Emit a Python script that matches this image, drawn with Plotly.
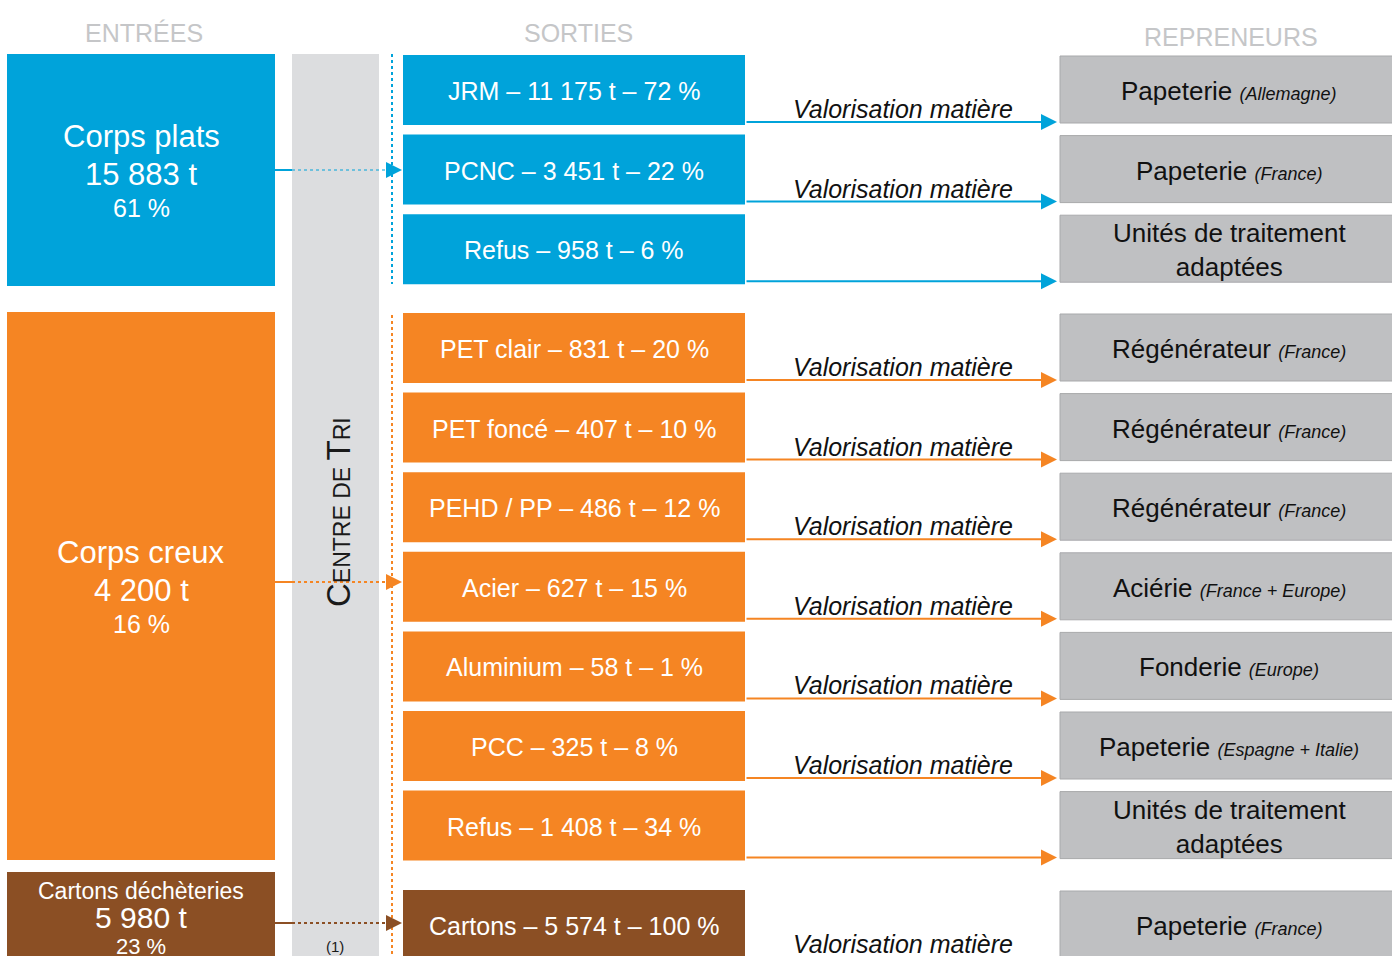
import plotly.graph_objects as go

# ---------------- DATA ----------------
header_labels = ["ENTRÉES", "SORTIES", "REPRENEURS"]

entree_names = ["Corps plats", "Corps creux", "Cartons déchèteries"]
entree_tonnes = ["15 883", "4 200", "5 980"]
entree_pct = [61, 16, 23]

sortie_names = ["JRM", "PCNC", "Refus", "PET clair", "PET foncé", "PEHD / PP",
                "Acier", "Aluminium", "PCC", "Refus", "Cartons"]
sortie_tonnes = ["11 175", "3 451", "958", "831", "407", "486",
                 "627", "58", "325", "1 408", "5 574"]
sortie_pct = [72, 22, 6, 20, 10, 12, 15, 1, 8, 34, 100]
sortie_flux = [0, 0, 0, 1, 1, 1, 1, 1, 1, 1, 2]
sortie_mode = ["Valorisation matière", "Valorisation matière", "",
               "Valorisation matière", "Valorisation matière", "Valorisation matière",
               "Valorisation matière", "Valorisation matière", "Valorisation matière",
               "", "Valorisation matière"]

repreneur_names = ["Papeterie", "Papeterie", "Unités de traitement<br>adaptées",
                   "Régénérateur", "Régénérateur", "Régénérateur", "Aciérie",
                   "Fonderie", "Papeterie", "Unités de traitement<br>adaptées",
                   "Papeterie"]
repreneur_pays = ["Allemagne", "France", "", "France", "France", "France",
                  "France + Europe", "Europe", "Espagne + Italie", "", "France"]

centre_label = ("C", "ENTRE DE ", "T", "RI")
note_label = "(1)"

# ---------------- STYLE / LAYOUT CONSTANTS ----------------
W, H = 1392, 956
FONT = "Liberation Sans, Arial, sans-serif"
FLUX_COLORS = ["#00A3DA", "#F58523", "#8B4F24"]
GRAY_COL = "#DCDDDF"
REP_FILL = "#BFC0C2"
REP_LINE = "#A8A9AB"
HEADER_COLOR = "#C5C6C8"

ENT_X0, ENT_X1 = 7, 275
ENT_TOP = [54, 312, 872]
ENT_BOT = [286, 860, 990]
COL_X0, COL_X1 = 292, 379
DOT_X = 392
SOR_X0, SOR_X1 = 403, 745
REP_X0, REP_X1 = 1060, 1400
ARROW_TIP = 1057
GROUP_START = [55, 313, 890]
PITCH = 79.6
BOX_H = 70
ARROW_IN_Y = [170, 582, 923]

shapes = []
annotations = []


def rect(x0, y0, x1, y1, fill, line=None, lw=0):
    shapes.append(dict(type="rect", xref="x", yref="y", x0=x0, y0=y0, x1=x1, y1=y1,
                       fillcolor=fill, line=dict(color=line or fill, width=lw),
                       layer="below"))


def text(x, y, s, size, color="white", xanchor="center", yanchor="middle",
         family=FONT, textangle=0):
    annotations.append(dict(x=x, y=y, xref="x", yref="y", text=s, showarrow=False,
                            xanchor=xanchor, yanchor=yanchor, textangle=textangle,
                            font=dict(family=family, size=size, color=color)))


def arrow(x_tail, y_tail, x_tip, y_tip, color, width=2, size=1.6):
    annotations.append(dict(x=x_tip, y=y_tip, ax=x_tail, ay=y_tail, xref="x", yref="y",
                            axref="x", ayref="y", text="", showarrow=True,
                            arrowhead=2, arrowsize=size, arrowwidth=width,
                            arrowcolor=color, standoff=0))


def line(x0, y0, x1, y1, color, width=2, dash="solid"):
    shapes.append(dict(type="line", xref="x", yref="y", x0=x0, y0=y0, x1=x1, y1=y1,
                       line=dict(color=color, width=width, dash=dash)))


# headers
header_x = [144, 578, 1231]
header_y = [33, 33, 37]
for hx, hy, lab in zip(header_x, header_y, header_labels):
    text(hx, hy, lab, 25, HEADER_COLOR)

# central sorting column
rect(COL_X0, ENT_TOP[0], COL_X1, 990, GRAY_COL)
c, e, t, r = centre_label
text(338, 512,
     f"<span style='font-size:33px'>{c}</span>{e}<span style='font-size:33px'>{t}</span>{r}",
     23, "#1A1A1A", textangle=-90)
text(335, 946, note_label, 15, "#1A1A1A")

# entries
for i, (name, tn, pc) in enumerate(zip(entree_names, entree_tonnes, entree_pct)):
    col = FLUX_COLORS[i]
    rect(ENT_X0, ENT_TOP[i], ENT_X1, ENT_BOT[i], col)
    if i < 2:
        cy = (ENT_TOP[i] + ENT_BOT[i]) / 2
        text(141, cy - 34, name, 31)
        text(141, cy + 4, f"{tn} t", 31)
        text(141, cy + 38, f"{pc} %", 25)
    else:
        text(141, ENT_TOP[i] + 19, name, 23)
        text(141, ENT_TOP[i] + 45, f"{tn} t", 30)
        text(141, ENT_TOP[i] + 74, f"{pc} %", 22)
    ay = ARROW_IN_Y[i]
    line(ENT_X1, ay, COL_X0, ay, col, 2)
    line(COL_X0, ay, 390, ay, col, 2.2 if i else 1.2, "dot")
    arrow(385, ay, 402, ay, col)

# dotted vertical guides
line(DOT_X, 54, DOT_X, 284, FLUX_COLORS[0], 2, "dot")
line(DOT_X, 315, DOT_X, 990, FLUX_COLORS[1], 2, "dot")

# outputs and buyers
counts = [0, 0, 0]
for k in range(len(sortie_names)):
    g = sortie_flux[k]
    col = FLUX_COLORS[g]
    top = GROUP_START[g] + PITCH * counts[g]
    counts[g] += 1
    rect(SOR_X0, top, SOR_X1, top + BOX_H, col)
    text((SOR_X0 + SOR_X1) / 2, top + 36,
         f"{sortie_names[k]} – {sortie_tonnes[k]} t – {sortie_pct[k]} %", 25)
    ly = top + 67
    arrow(SOR_X1, ly, ARROW_TIP, ly, col)
    if sortie_mode[k]:
        text(903, top + 54, f"<i>{sortie_mode[k]}</i>", 25, "#111111")
    rect(REP_X0, top + 1, REP_X1, top + 68, REP_FILL, REP_LINE, 1)
    lab = repreneur_names[k]
    if repreneur_pays[k]:
        lab += f" <i><span style='font-size:18px'>({repreneur_pays[k]})</span></i>"
    text(1229, top + 36, lab, 26, "#111111")

fig = go.Figure()
fig.update_layout(
    width=W, height=H, margin=dict(l=0, r=0, t=0, b=0),
    paper_bgcolor="white", plot_bgcolor="white",
    xaxis=dict(range=[0, W], visible=False, fixedrange=True),
    yaxis=dict(range=[H, 0], visible=False, fixedrange=True),
    shapes=shapes, annotations=annotations, showlegend=False,
)
fig.write_html("out.html", config={"displayModeBar": False},
               post_script="document.body.style.margin='0';document.body.style.overflow='hidden';")
